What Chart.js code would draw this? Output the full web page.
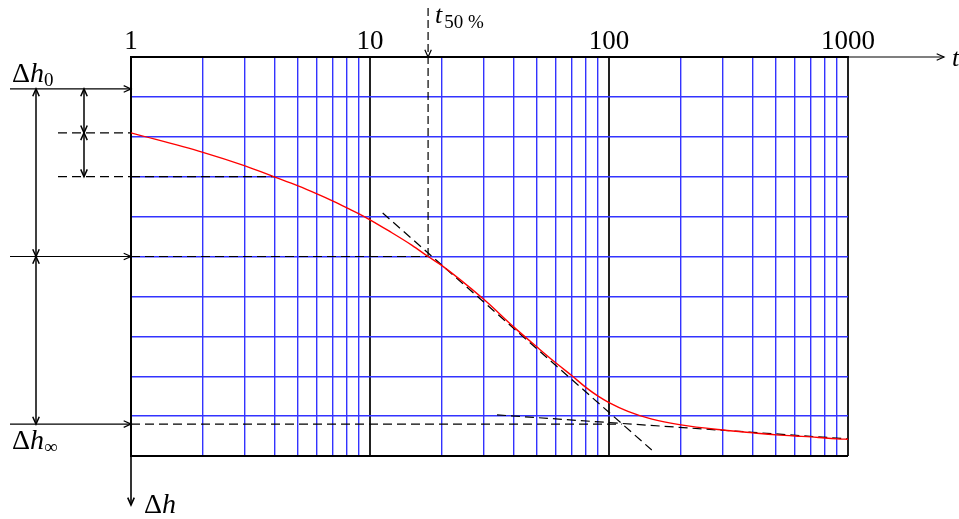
<!DOCTYPE html>
<html>
<head>
<meta charset="utf-8">
<script src="https://cdn.jsdelivr.net/npm/chart.js@4"></script>
<style>
  body { margin: 0; background: #fff; }
  canvas { display: block; }
</style>
</head>
<body>
<canvas id="consolidation" width="959" height="519"></canvas>
<script>
// Time axis (log) – tick labels and grid values
const tickValues = [1, 10, 100, 1000];
const tickLabels = ['1', '10', '100', '1000'];
const gridValues = [1, 2, 3, 4, 5, 6, 7, 8, 9, 10, 20, 30, 40, 50, 60, 70, 80, 90,
                    100, 200, 300, 400, 500, 600, 700, 800, 900, 1000];

// Settlement curve (Δh grows downwards, 0..10 units)
const timeValues = [1, 2, 3, 4, 5, 6, 7, 8, 9, 10, 12, 15, 17.5, 20, 30, 40, 50, 60, 70,
                    80, 90, 100, 120, 150, 200, 300, 400, 500, 600, 700, 800, 900, 1000];
const settlement = [1.90, 2.39, 2.73, 3.01, 3.23, 3.43, 3.61, 3.78, 3.93, 4.08, 4.36, 4.72, 5.0,
                    5.23, 6.08, 6.77, 7.27, 7.67, 7.99, 8.28, 8.50, 8.66, 8.88, 9.07, 9.22, 9.35,
                    9.42, 9.47, 9.50, 9.52, 9.55, 9.57, 9.58];

// Construction levels
const dh0 = 0.8;      // Δh0
const dh1 = 1.9;      // Δh at t = 1
const dh4 = 3.0;      // Δh at t = 4
const dh50 = 5.0;     // Δh 50 %
const dhInf = 9.2;    // Δh∞
const t50 = 17.5;
const t50Top = -1.23;

// tangent lines
const inflectionTangent = [{ x: 11.3, y: 3.91 }, { x: 151, y: 9.85 }];
const secondaryTangent = [{ x: 34, y: 8.97 }, { x: 1000, y: 9.57 }];

const serif = '"Liberation Serif", "DejaVu Serif", serif';
const blue = '#3333ff';
const dash = [9, 5];

function dashed(data, extra) {
    return Object.assign({
        data: data,
        borderColor: '#000',
        borderWidth: 1.2,
        borderDash: dash,
        pointRadius: 0,
        fill: false
    }, extra || {});
}

function arrowHead(ctx, x, y, angle) {
    // open chevron like the LaTeX arrows
    const len = 8, spread = 0.42;
    ctx.beginPath();
    ctx.moveTo(x - len * Math.cos(angle - spread), y - len * Math.sin(angle - spread));
    ctx.lineTo(x, y);
    ctx.lineTo(x - len * Math.cos(angle + spread), y - len * Math.sin(angle + spread));
    ctx.stroke();
}

function line(ctx, x1, y1, x2, y2, dashArr) {
    ctx.save();
    ctx.setLineDash(dashArr || []);
    ctx.beginPath();
    ctx.moveTo(x1, y1);
    ctx.lineTo(x2, y2);
    ctx.stroke();
    ctx.restore();
}

function mathText(ctx, parts, x, y) {
    parts.forEach(p => {
        ctx.font = p.font;
        ctx.fillText(p.text, x, y + (p.dy || 0));
        x += ctx.measureText(p.text).width + (p.gap || 0);
    });
}

const annotations = {
    id: 'annotations',
    afterDraw(chart) {
        const ctx = chart.ctx;
        const xs = chart.scales.x;
        const ys = chart.scales.y;
        const area = chart.chartArea;
        const L = area.left;

        ctx.save();
        ctx.strokeStyle = '#000';
        ctx.fillStyle = '#000';
        ctx.lineWidth = 1.2;

        // tick labels on top
        ctx.font = '27px ' + serif;
        ctx.textAlign = 'center';
        ctx.textBaseline = 'alphabetic';
        tickValues.forEach((v, i) => {
            ctx.fillText(tickLabels[i], xs.getPixelForValue(v), area.top - 8);
        });
        ctx.textAlign = 'left';

        // time axis arrow
        line(ctx, area.right, area.top, area.right + 96, area.top);
        arrowHead(ctx, area.right + 96, area.top, 0);
        ctx.font = 'italic 26px ' + serif;
        ctx.fillText('t', area.right + 104, area.top + 9);

        // Δh axis arrow
        ctx.lineWidth = 1.6;
        line(ctx, L, area.bottom, L, area.bottom + 49);
        arrowHead(ctx, L, area.bottom + 49, Math.PI / 2);
        ctx.lineWidth = 1.2;
        mathText(ctx, [
            { text: 'Δ', font: '28px ' + serif },
            { text: 'h', font: 'italic 28px ' + serif }
        ], L + 13, area.bottom + 57);

        // level lines from the left margin
        const y0 = ys.getPixelForValue(dh0);
        const y1 = ys.getPixelForValue(dh1);
        const y4 = ys.getPixelForValue(dh4);
        const y50 = ys.getPixelForValue(dh50);
        const yInf = ys.getPixelForValue(dhInf);
        [y0, y50, yInf].forEach(y => {
            line(ctx, L - 121, y, L, y);
            arrowHead(ctx, L, y, 0);
        });
        line(ctx, L - 73, y1, L, y1, dash);
        line(ctx, L - 73, y4, L, y4, dash);

        // dimension arrows
        const d1 = L - 95, d2 = L - 47;
        ctx.lineWidth = 1.5;
        [[d1, y0, y50], [d1, y50, yInf], [d2, y0, y1], [d2, y1, y4]].forEach(s => {
            line(ctx, s[0], s[1], s[0], s[2]);
            arrowHead(ctx, s[0], s[1], -Math.PI / 2);
            arrowHead(ctx, s[0], s[2], Math.PI / 2);
        });
        ctx.lineWidth = 1.2;

        // t50 arrow head and label
        const xt = xs.getPixelForValue(t50);
        arrowHead(ctx, xt, area.top, Math.PI / 2);
        mathText(ctx, [
            { text: 't', font: 'italic 26px ' + serif, gap: 2 },
            { text: '50 %', font: '19px ' + serif, dy: 5 }
        ], xt + 7, 23);

        // Δh0 and Δh∞ labels
        mathText(ctx, [
            { text: 'Δ', font: '28px ' + serif },
            { text: 'h', font: 'italic 28px ' + serif },
            { text: '0', font: '19px ' + serif, dy: 4 }
        ], 12, y0 - 7);
        mathText(ctx, [
            { text: 'Δ', font: '28px ' + serif },
            { text: 'h', font: 'italic 28px ' + serif },
            { text: '∞', font: '19px ' + serif, dy: 4 }
        ], 12, yInf + 25);

        ctx.restore();
    }
};

const ctx = document.getElementById('consolidation').getContext('2d');

const chart = new Chart(ctx, {
    type: 'line',
    data: {
        datasets: [
            {
                data: timeValues.map((t, i) => ({ x: t, y: settlement[i] })),
                borderColor: '#ff0000',
                borderWidth: 1.4,
                pointRadius: 0,
                cubicInterpolationMode: 'monotone',
                fill: false
            },
            dashed(inflectionTangent),
            dashed(secondaryTangent),
            dashed([{ x: 1, y: dh50 }, { x: t50, y: dh50 }]),
            dashed([{ x: 1, y: dhInf }, { x: 113, y: dhInf }]),
            dashed([{ x: 1, y: dh4 }, { x: 4, y: dh4 }]),
            dashed([{ x: t50, y: t50Top }, { x: t50, y: dh50 }], { clip: false, borderDash: [8, 4] })
        ]
    },
    options: {
        responsive: false,
        animation: false,
        layout: { padding: { left: 131, top: 57, right: 111, bottom: 63 } },
        plugins: {
            legend: { display: false },
            tooltip: { enabled: false }
        },
        scales: {
            x: {
                type: 'logarithmic',
                position: 'top',
                min: 1,
                max: 1000,
                afterBuildTicks: scale => {
                    scale.ticks = gridValues.map(v => ({ value: v }));
                },
                ticks: { display: false },
                grid: {
                    drawTicks: false,
                    color: c => tickValues.includes(c.tick.value) ? '#222' : blue,
                    lineWidth: c => tickValues.includes(c.tick.value) ? 2 : 1.4
                },
                border: { display: true, color: '#000', width: 2 }
            },
            y: {
                type: 'linear',
                reverse: true,
                min: 0,
                max: 10,
                ticks: { display: false, stepSize: 1 },
                grid: {
                    drawTicks: false,
                    color: c => (c.tick.value === 0 || c.tick.value === 10) ? '#000' : blue,
                    lineWidth: c => (c.tick.value === 0 || c.tick.value === 10) ? 2 : 1.4
                },
                border: { display: true, color: '#000', width: 2 }
            }
        }
    },
    plugins: [annotations]
});
</script>
</body>
</html>
